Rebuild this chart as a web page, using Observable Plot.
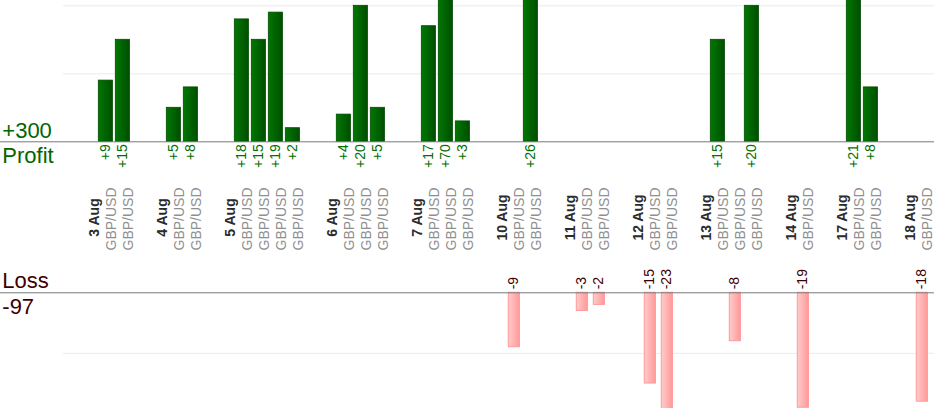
<!DOCTYPE html>
<html>
<head>
<meta charset="utf-8">
<script src="https://cdn.jsdelivr.net/npm/d3@7"></script>
<script src="https://cdn.jsdelivr.net/npm/@observablehq/plot@0.6"></script>
<style>
  html, body { margin: 0; padding: 0; background: #fff; }
  #chart { position: relative; width: 934px; height: 420px; overflow: hidden; background: #fff; }
  #chart svg { position: absolute; left: 0; display: block; }
</style>
</head>
<body>
<div id="chart"></div>
<script>
// ---- data ----
const dates = ["3 Aug", "4 Aug", "5 Aug", "6 Aug", "7 Aug", "10 Aug", "11 Aug", "12 Aug", "13 Aug", "14 Aug", "17 Aug", "18 Aug"];
const tradesPerDay = [2, 2, 4, 3, 3, 2, 2, 2, 3, 1, 2, 1];
const pair = "GBP/USD";
const results = [9, 15, 5, 8, 18, 15, 19, 2, 4, 20, 5, 17, 70, 3, -9, 26, -3, -2, -15, -23, 15, -8, 20, -19, 21, 8, -18];
const profitTicks = [10, 20];
const lossTicks = [-10];

// ---- build slot table (gap, date, trades...) ----
const slots = [];
const dateRows = [];
const trades = [];
let k = 0;
dates.forEach((d, i) => {
  slots.push("gap" + i);
  slots.push("date" + i);
  dateRows.push({slot: "date" + i, label: d});
  for (let j = 0; j < tradesPerDay[i]; j++) {
    const s = "t" + k;
    slots.push(s);
    trades.push({slot: s, pair, value: results[k]});
    k++;
  }
});
const profits = trades.filter(t => t.value > 0);
const losses = trades.filter(t => t.value < 0);
const totalProfit = d3.sum(profits, d => d.value);
const totalLoss = d3.sum(losses, d => d.value);

const font = '"Liberation Sans", Arial, sans-serif';
const xScale = {type: "band", domain: slots, range: [61.3, 932.1], padding: 0, axis: null};
const common = {
  width: 934, marginTop: 0, marginRight: 0, marginBottom: 0, marginLeft: 0,
  style: {fontFamily: font, background: "transparent"}
};
const profitGreen = "#007000";
const lossRed = "#3d0000";

const topPlot = Plot.plot({
  ...common,
  height: 260,
  x: xScale,
  y: {domain: [0, 20], range: [141.3, 5.3], axis: null},
  marks: [
    Plot.ruleY(profitTicks, {stroke: "#ebebeb", insetLeft: 63}),
    Plot.barY(profits, {x: "slot", y: "value", fill: "url(#gradProfit)", stroke: "#004c00", strokeWidth: 0.8, insetLeft: 1.3, insetRight: 1.5, clip: true}),
    Plot.ruleY([0], {stroke: "#7a7a7a"}),
    Plot.text(profits, {x: "slot", y: () => 0, text: d => "+" + d.value, rotate: -90, textAnchor: "end", dy: 2.5, fill: profitGreen, fontSize: 14}),
    Plot.text(dateRows, {x: "slot", text: "label", rotate: -90, textAnchor: "middle", frameAnchor: "top", dy: 217, fill: "#2b2b2b", fontWeight: "bold", fontSize: 14}),
    Plot.text(trades, {x: "slot", text: "pair", rotate: -90, textAnchor: "middle", frameAnchor: "top", dy: 218.5, fill: "#8f8f8f", fontSize: 14}),
    Plot.text([totalProfit], {y: () => 0, frameAnchor: "left", text: d => "+" + d, textAnchor: "start", lineAnchor: "bottom", dx: 1.8, dy: -4, fill: "#006600", fontSize: 22}),
    Plot.text(["Profit"], {y: () => 0, frameAnchor: "left", text: d => d, textAnchor: "start", lineAnchor: "top", dx: 1.8, dy: 5.4, fill: "#006600", fontSize: 22})
  ]
});

const bottomPlot = Plot.plot({
  ...common,
  height: 148,
  x: xScale,
  y: {domain: [0, -10], range: [32.3, 92.8], axis: null},
  marks: [
    Plot.ruleY(lossTicks, {stroke: "#ebebeb", insetLeft: 63}),
    Plot.barY(losses, {x: "slot", y: "value", fill: "url(#gradLoss)", stroke: "#ff9a9a", strokeWidth: 1, insetLeft: 3.3, insetRight: 2.6, clip: true}),
    Plot.ruleY([0], {stroke: "#7a7a7a"}),
    Plot.text(losses, {x: "slot", y: () => 0, text: d => String(d.value), rotate: -90, textAnchor: "start", dy: -3.5, fill: lossRed, fontSize: 14}),
    Plot.text(["Loss"], {y: () => 0, frameAnchor: "left", text: d => d, textAnchor: "start", lineAnchor: "bottom", dx: 1.8, dy: -5, fill: lossRed, fontSize: 22}),
    Plot.text([totalLoss], {y: () => 0, frameAnchor: "left", text: d => String(d), textAnchor: "start", lineAnchor: "top", dx: 1.8, dy: 5.4, fill: lossRed, fontSize: 22})
  ]
});

function addGradient(svg, id, c0, c1) {
  let defs = d3.select(svg).select("defs");
  if (defs.empty()) defs = d3.select(svg).insert("defs", ":first-child");
  const g = defs.append("linearGradient").attr("id", id).attr("x1", 0).attr("x2", 1).attr("y1", 0).attr("y2", 0);
  g.append("stop").attr("offset", "0%").attr("stop-color", c0);
  g.append("stop").attr("offset", "100%").attr("stop-color", c1);
}
addGradient(topPlot, "gradProfit", "#007800", "#004e00");
addGradient(bottomPlot, "gradLoss", "#ffcccc", "#ff9999");

topPlot.style.top = "0px";
bottomPlot.style.top = "260px";
const chart = document.getElementById("chart");
chart.appendChild(topPlot);
chart.appendChild(bottomPlot);
</script>
</body>
</html>
